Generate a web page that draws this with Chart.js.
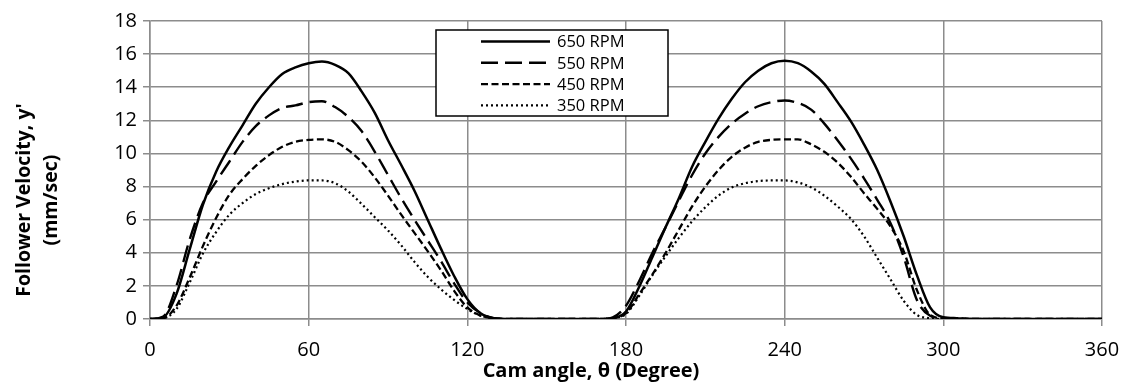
<!DOCTYPE html>
<html>
<head>
<meta charset="utf-8">
<script src="https://cdn.jsdelivr.net/npm/chart.js@4.4.1/dist/chart.umd.min.js"></script>
<style>
  html, body { margin: 0; padding: 0; background: #fff; overflow: hidden; }
  .wrap { width: 1125px; height: 385px; position: relative; }
</style>
</head>
<body>
<div class="wrap"><canvas id="cam-chart"></canvas></div>
<script>
// cam angle (degree), sampled every 5 deg
const angles = [
  0, 5, 10, 15, 20, 25, 30, 35, 40, 45, 50, 55,
  60, 65, 70, 75, 80, 85, 90, 95, 100, 105, 110, 115,
  120, 125, 130, 135, 140, 145, 150, 155, 160, 165, 170, 175,
  180, 185, 190, 195, 200, 205, 210, 215, 220, 225, 230, 235,
  240, 245, 250, 255, 260, 265, 270, 275, 280, 285, 290, 295,
  300, 305, 310, 315, 320, 325, 330, 335, 340, 345, 350, 355,
  360
];

// follower velocity (mm/sec)
const rpm650 = [
  0, 0.1, 1.5, 4.2, 6.9, 8.9, 10.4, 11.7, 13.0, 14.0, 14.8, 15.2,
  15.45, 15.55, 15.35, 14.85, 13.75, 12.45, 10.8, 9.3, 7.75, 6.0, 4.25, 2.6,
  1.2, 0.35, 0.05, 0, 0, 0, 0, 0, 0, 0, 0, 0.05,
  0.45, 1.95, 3.75, 5.55, 7.3, 9.2, 10.7, 12.1, 13.3, 14.3, 15.0, 15.45,
  15.6, 15.45, 14.95, 14.2, 13.1, 11.95, 10.55, 9.0, 7.1, 5.0, 2.65, 0.7,
  0.1, 0.05, 0, 0, 0, 0, 0, 0, 0, 0, 0, 0,
  0
];
const rpm550 = [
  0, 0.15, 2.0, 4.8, 7.0, 8.3, 9.5, 10.7, 11.65, 12.3, 12.75, 12.9,
  13.1, 13.15, 12.8, 12.2, 11.35, 10.1, 8.7, 7.3, 6.0, 4.75, 3.5, 2.15,
  1.0, 0.35, 0.05, 0, 0, 0, 0, 0, 0, 0, 0, 0.1,
  0.8, 2.3, 4.0, 5.55, 7.15, 8.7, 10.0, 11.0, 11.8, 12.4, 12.85, 13.1,
  13.2, 13.05, 12.65, 11.8, 10.8, 9.7, 8.5, 7.2, 5.8, 3.75, 1.15, 0.2,
  0.05, 0.05, 0, 0, 0, 0, 0, 0, 0, 0, 0, 0,
  0
];
const rpm450 = [
  0, 0.05, 0.8, 2.5, 4.4, 6.1, 7.5, 8.45, 9.25, 9.9, 10.4, 10.7,
  10.82, 10.85, 10.7, 10.2, 9.5, 8.55, 7.45, 6.3, 5.2, 4.1, 2.95, 1.7,
  0.7, 0.2, 0.05, 0, 0, 0, 0, 0, 0, 0, 0, 0.05,
  0.35, 1.5, 2.7, 4.0, 5.4, 6.8, 8.0, 9.0, 9.8, 10.35, 10.7, 10.82,
  10.85, 10.85, 10.55, 10.1, 9.45, 8.6, 7.6, 6.65, 5.6, 4.1, 1.75, 0.25,
  0.05, 0.05, 0, 0, 0, 0, 0, 0, 0, 0, 0, 0,
  0
];
const rpm350 = [
  0, 0.05, 0.6, 2.2, 3.95, 5.25, 6.3, 7.0, 7.55, 7.9, 8.15, 8.3,
  8.37, 8.37, 8.2, 7.7, 6.95, 6.15, 5.35, 4.45, 3.45, 2.55, 1.8, 1.15,
  0.6, 0.2, 0.05, 0, 0, 0, 0, 0, 0, 0, 0, 0.05,
  0.3, 1.4, 2.65, 3.8, 4.9, 5.9, 6.75, 7.45, 7.95, 8.2, 8.33, 8.37,
  8.37, 8.25, 7.95, 7.45, 6.8, 6.05, 5.0, 3.7, 2.4, 1.1, 0.25, 0.05,
  0, 0, 0, 0, 0, 0, 0, 0, 0, 0, 0, 0,
  0
];

const seriesLabels = ['650 RPM', '550 RPM', '450 RPM', '350 RPM'];
const xTitle = 'Cam angle, θ (Degree)';
const yTitle = ["Follower Velocity, y'", '(mm/sec)'];

const FONT = "'Open Sans', 'DejaVu Sans', sans-serif";
const GRID = '#8c8c8c';

const toPoints = vals => angles.map((a, i) => ({ x: a, y: vals[i] }));

const dashes = [[], [17, 7], [7, 3.5], [2, 3]];
const widths = [2.5, 2.4, 2.3, 2.2];
const seriesData = [rpm650, rpm550, rpm450, rpm350];

const datasets = seriesData.map((vals, i) => ({
  label: seriesLabels[i],
  data: toPoints(vals),
  borderColor: '#000',
  borderWidth: widths[i],
  borderDash: dashes[i],
  borderCapStyle: 'butt',
  pointRadius: 0,
  cubicInterpolationMode: 'monotone',
  fill: false
}));

// legend box inside plot + axis titles
const decorations = {
  id: 'decorations',
  afterDraw(chart) {
    const ctx = chart.ctx;
    const area = chart.chartArea;
    ctx.save();

    // legend
    const bx = area.left + 286, by = area.top + 9, bw = 232, bh = 86;
    ctx.fillStyle = '#fff';
    ctx.fillRect(bx, by, bw, bh);
    ctx.strokeStyle = '#000';
    ctx.lineWidth = 1.5;
    ctx.setLineDash([]);
    ctx.strokeRect(bx, by, bw, bh);
    ctx.font = '16.5px ' + FONT;
    ctx.textBaseline = 'middle';
    ctx.textAlign = 'left';
    chart.data.datasets.forEach((ds, i) => {
      const y = by + 11.5 + i * 21.3;
      ctx.beginPath();
      ctx.setLineDash(ds.borderDash);
      ctx.lineWidth = ds.borderWidth;
      ctx.lineCap = 'butt';
      ctx.moveTo(bx + 45, y);
      ctx.lineTo(bx + 114, y);
      ctx.stroke();
      ctx.setLineDash([]);
      ctx.fillStyle = '#000';
      ctx.fillText(ds.label, bx + 121, y + 1);
    });

    // x title
    ctx.font = 'bold 20px ' + FONT;
    ctx.textAlign = 'center';
    ctx.fillText(xTitle, 591, 371);

    // y title, two lines
    ctx.font = 'bold 19.5px ' + FONT;
    ctx.translate(24, 200);
    ctx.rotate(-Math.PI / 2);
    ctx.fillText(yTitle[0], 0, 0);
    ctx.fillText(yTitle[1], 0, 27);
    ctx.restore();
  }
};

new Chart(document.getElementById('cam-chart'), {
  type: 'line',
  data: { datasets },
  options: {
    responsive: true,
    maintainAspectRatio: false,
    animation: false,
    layout: { padding: { top: 21, right: 23, bottom: 0, left: 0 } },
    plugins: {
      legend: { display: false },
      tooltip: { enabled: false }
    },
    scales: {
      x: {
        type: 'linear',
        min: 0,
        max: 360,
        ticks: {
          stepSize: 60,
          color: '#000',
          padding: 0,
          maxRotation: 0,
          font: { family: FONT, size: 20, lineHeight: '48px' }
        },
        grid: { color: GRID, lineWidth: 1.5, tickLength: 7, tickColor: GRID },
        border: { color: GRID, width: 1.5 },
        afterFit(scale) { scale.height = 66; }
      },
      y: {
        min: 0,
        max: 18,
        ticks: {
          stepSize: 2,
          color: '#000',
          padding: 6,
          font: { family: FONT, size: 20 }
        },
        grid: { color: GRID, lineWidth: 1.5, tickLength: 7, tickColor: GRID },
        border: { color: GRID, width: 1.5 },
        afterFit(scale) { scale.width = 150; }
      }
    }
  },
  plugins: [decorations]
});
</script>
</body>
</html>
